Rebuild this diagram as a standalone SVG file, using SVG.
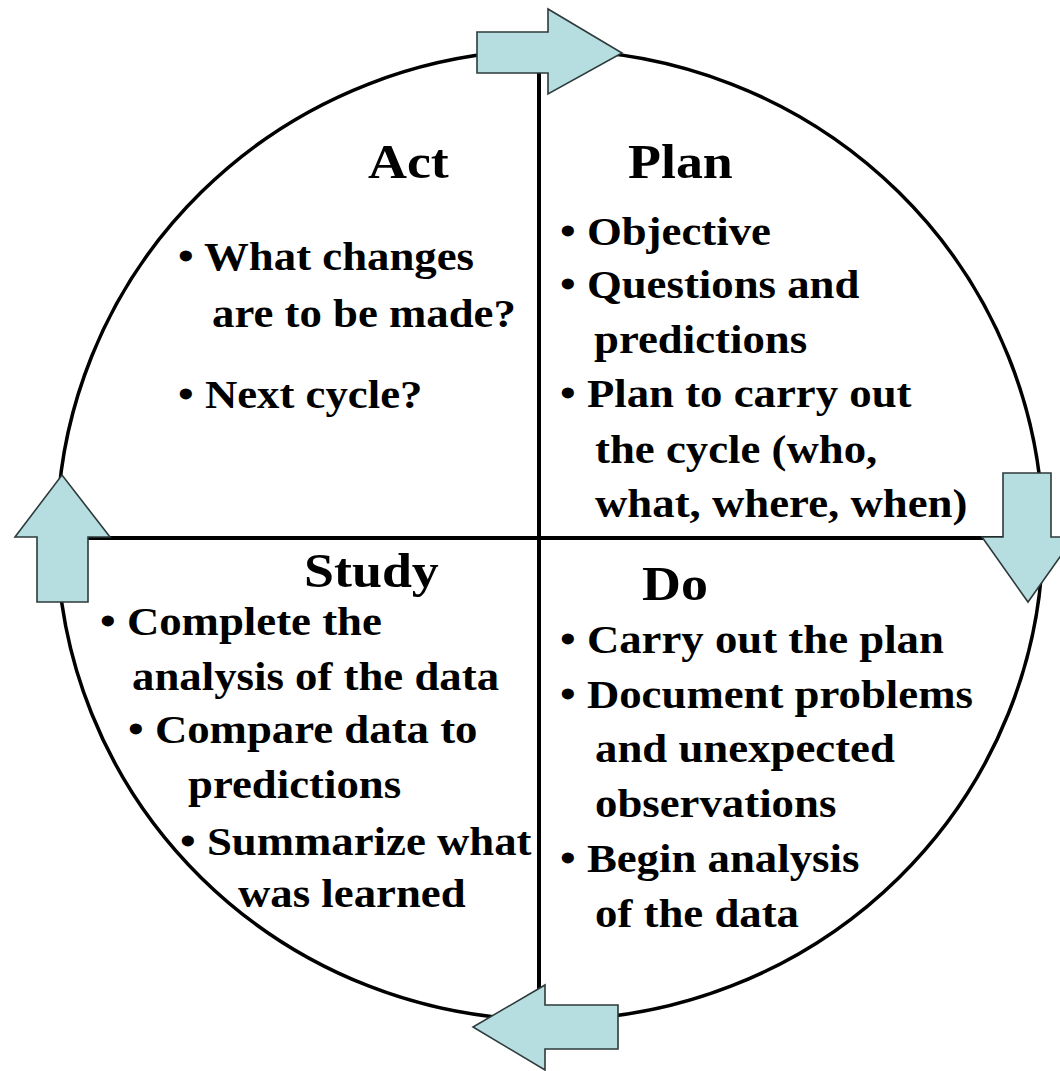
<svg xmlns="http://www.w3.org/2000/svg" width="1060" height="1071" viewBox="0 0 1060 1071">
  <style>
    .ring { fill: none; stroke: #000; stroke-width: 3.5; }
    .axis { stroke: #000; stroke-width: 4; }
    .arrow { fill: #b6dee1; stroke: #2e3a3b; stroke-width: 1.6; stroke-linejoin: miter; }
    .title { font-family: "Liberation Serif", "Times New Roman", serif; font-weight: bold; font-size: 49px; fill: #000; }
    .item { font-family: "Liberation Serif", "Times New Roman", serif; font-weight: bold; font-size: 40px; fill: #000; }
  </style>
  <rect width="1060" height="1071" fill="#fff"/>

  <!-- outer cycle and quadrant dividers -->
  <g id="frame">
    <ellipse class="ring" cx="550" cy="535" rx="493" ry="485"/>
    <line class="axis" x1="539" y1="55" x2="539" y2="1015"/>
    <line class="axis" x1="60" y1="538" x2="1040" y2="538"/>
  </g>

  <!-- block arrows carrying the cycle round clockwise -->
  <g id="connectors">
    <polygon class="arrow" points="477,32 548,32 548,9 622,53 548,94 548,73 477,73"/>
    <polygon class="arrow" points="1003,473 1051,473 1051,537 1074,537 1028,602 982,537 1003,537"/>
    <polygon class="arrow" points="618,1005 618,1049 545,1049 545,1070 473,1027 545,985 545,1005"/>
    <polygon class="arrow" points="88,602 37,602 37,537 15,537 62,475 110,537 88,537"/>
  </g>

  <g id="act">
    <text class="title" transform="translate(368,178) scale(1.1,1)">Act</text>
    <text class="item" transform="translate(178,270) scale(1.12,1)">• What changes</text>
    <text class="item" transform="translate(212,327) scale(1.12,1)">are to be made?</text>
    <text class="item" transform="translate(178,408) scale(1.12,1)">• Next cycle?</text>
  </g>

  <g id="plan">
    <text class="title" transform="translate(628,178) scale(1.1,1)">Plan</text>
    <text class="item" transform="translate(560,245) scale(1.12,1)">• Objective</text>
    <text class="item" transform="translate(560,298) scale(1.12,1)">• Questions and</text>
    <text class="item" transform="translate(594,353) scale(1.12,1)">predictions</text>
    <text class="item" transform="translate(560,407) scale(1.12,1)">• Plan to carry out</text>
    <text class="item" transform="translate(595,463) scale(1.12,1)">the cycle (who,</text>
    <text class="item" transform="translate(595,517) scale(1.12,1)">what, where, when)</text>
  </g>

  <g id="do">
    <text class="title" transform="translate(642,600) scale(1.1,1)">Do</text>
    <text class="item" transform="translate(560,653) scale(1.12,1)">• Carry out the plan</text>
    <text class="item" transform="translate(560,708) scale(1.12,1)">• Document problems</text>
    <text class="item" transform="translate(595,762) scale(1.12,1)">and unexpected</text>
    <text class="item" transform="translate(595,817) scale(1.12,1)">observations</text>
    <text class="item" transform="translate(560,872) scale(1.12,1)">• Begin analysis</text>
    <text class="item" transform="translate(595,927) scale(1.12,1)">of the data</text>
  </g>

  <g id="study">
    <text class="title" transform="translate(304,587) scale(1.1,1)">Study</text>
    <text class="item" transform="translate(100,635) scale(1.12,1)">• Complete the</text>
    <text class="item" transform="translate(132,690) scale(1.12,1)">analysis of the data</text>
    <text class="item" transform="translate(128,743) scale(1.12,1)">• Compare data to</text>
    <text class="item" transform="translate(188,798) scale(1.12,1)">predictions</text>
    <text class="item" transform="translate(180,855) scale(1.12,1)">• Summarize what</text>
    <text class="item" transform="translate(238,907) scale(1.12,1)">was learned</text>
  </g>
</svg>
